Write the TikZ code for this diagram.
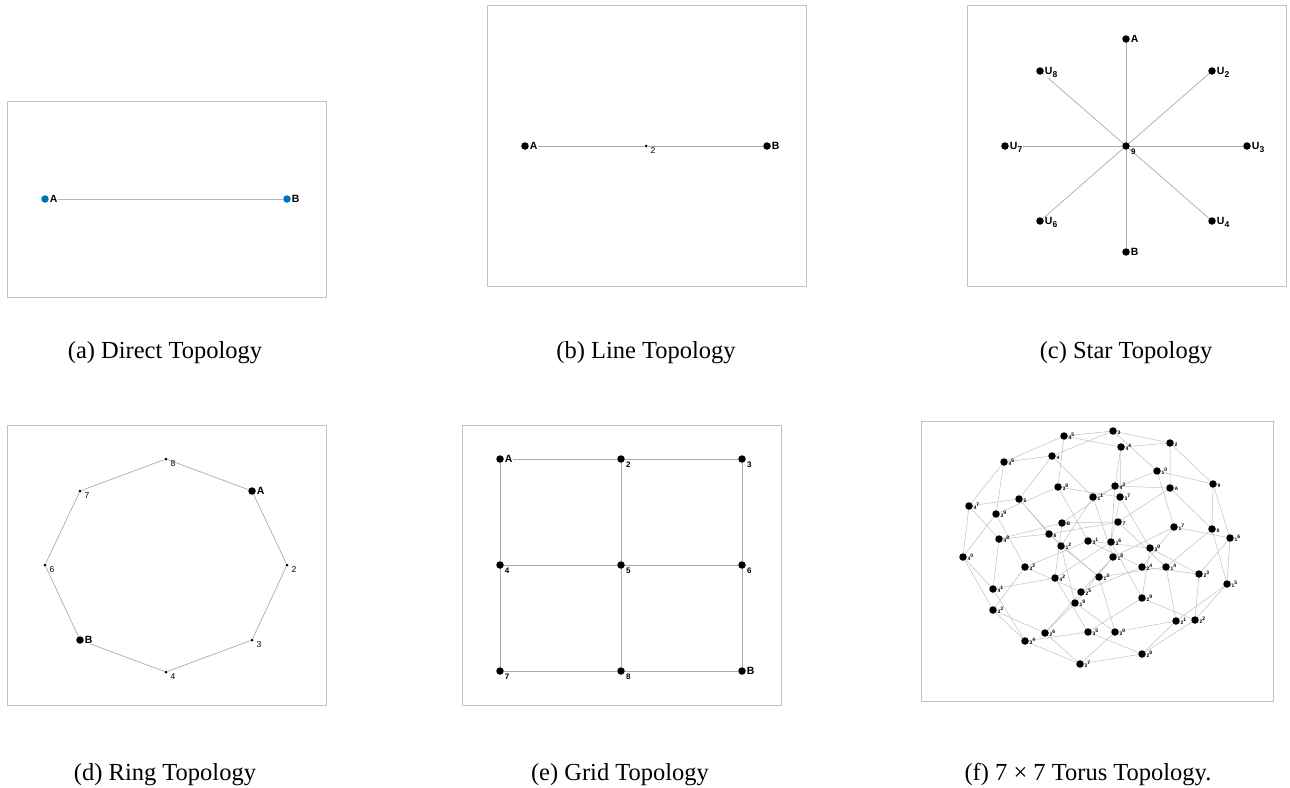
\documentclass[tikz,border=0pt]{standalone}
\usepackage{fontspec}
\setmainfont{Liberation Serif}
\setsansfont{Liberation Sans}
\usepackage{tikz}
\usetikzlibrary{backgrounds}
\definecolor{qqxsbd}{rgb}{0,0.447,0.741}
\definecolor{zdbfdz}{rgb}{0.616,0.749,0.851}
\definecolor{aaaaaa}{rgb}{0.667,0.667,0.667}
\definecolor{cqcqcq}{rgb}{0.753,0.753,0.753}
\newcommand{\tnum}[2]{\raisebox{-3.5pt}{#1}\raisebox{-0.5pt}{#2}}
\newcommand{\tone}[1]{\raisebox{-3.5pt}{#1}}
\newcommand{\usub}[1]{U\raisebox{-3pt}{\fontsize{8.5}{9}\selectfont#1}}
\newcommand{\tnode}[4]{\node[tdot,label={[tlab]0:#4}] (t#1) at (#2,#3) {};}
\begin{document}
\begin{tikzpicture}[line cap=round,line join=round,x=1pt,y=-1pt,
	dot/.style={circle,fill=black,inner sep=0pt,minimum size=7.5pt},
	bluedot/.style={dot,fill=qqxsbd},
	smalldot/.style={circle,fill=black,inner sep=0pt,minimum size=3pt},
	tdot/.style={circle,fill=black,inner sep=0pt,minimum size=7.5pt},
	link/.style={draw=aaaaaa,line width=0.7pt},
	tlink/.style={draw=cqcqcq,line width=0.5pt},
	frame/.style={draw=cqcqcq,line width=0.9pt},
	labA/.style={font=\sffamily\bfseries\fontsize{10.5}{11}\selectfont,fill=white,inner sep=0.5pt,anchor=base west,xshift=0.3pt,yshift=-3.7pt},
	labn/.style={font=\sffamily\fontsize{8.5}{9}\selectfont,inner sep=0pt,anchor=north west,xshift=3.2pt,yshift=-0.6pt},
	labg/.style={font=\sffamily\bfseries\fontsize{8}{8}\selectfont,inner sep=0pt,anchor=north west,xshift=2pt},
	tlab/.style={font=\sffamily\bfseries\fontsize{5}{5}\selectfont,inner sep=0.4pt,anchor=base west},
	captext/.style={font=\fontsize{24.5}{26}\selectfont,anchor=base,inner sep=0pt}]
	\clip(0,0) rectangle (1290,787);
	% (a) direct
	\draw[frame] (7,101) rectangle (326,297);
	\node[bluedot,label={[labA]0:A}] (aA) at (45,199) {};
	\node[bluedot,label={[labA]0:B}] (aB) at (287,199) {};
	\begin{scope}[on background layer]
		\draw[link,draw=zdbfdz] (aA) -- (aB);
	\end{scope}
	\node[captext] (capa) at (165,358) {(a) Direct Topology};
	% (b) line
	\draw[frame] (487,5) rectangle (806,286);
	\node[dot,label={[labA]0:A}] (bA) at (525,146) {};
	\node[smalldot,label={[labn]-45:2}] (b2) at (646,146) {};
	\node[dot,label={[labA]0:B}] (bB) at (767,146) {};
	\begin{scope}[on background layer]
		\draw[link] (bA) -- (b2);
		\draw[link] (b2) -- (bB);
	\end{scope}
	\node[captext] (capb) at (646,358) {(b) Line Topology};
	% (c) star
	\draw[frame] (967,5) rectangle (1286,286);
	\node[dot,label={[labg]-45:9}] (c9) at (1126,146) {};
	\node[dot,label={[labA]0:A}] (cA) at (1126,39) {};
	\node[dot,label={[labA]0:\usub{2}}] (cU2) at (1212,71) {};
	\node[dot,label={[labA]0:\usub{3}}] (cU3) at (1247,146) {};
	\node[dot,label={[labA]0:\usub{4}}] (cU4) at (1212,221) {};
	\node[dot,label={[labA]0:B}] (cB) at (1126,252) {};
	\node[dot,label={[labA]0:\usub{6}}] (cU6) at (1040,221) {};
	\node[dot,label={[labA]0:\usub{7}}] (cU7) at (1005,146) {};
	\node[dot,label={[labA]0:\usub{8}}] (cU8) at (1040,71) {};
	\begin{scope}[on background layer]
		\draw[link] (c9) -- (cA);
		\draw[link] (c9) -- (cU2);
		\draw[link] (c9) -- (cU3);
		\draw[link] (c9) -- (cU4);
		\draw[link] (c9) -- (cB);
		\draw[link] (c9) -- (cU6);
		\draw[link] (c9) -- (cU7);
		\draw[link] (c9) -- (cU8);
	\end{scope}
	\node[captext] (capc) at (1126,358) {(c) Star Topology};
	% (d) ring
	\draw[frame] (7,425) rectangle (326,705);
	\node[dot,label={[labA]0:A}] (dA) at (252,491) {};
	\node[smalldot,label={[labn]-45:2}] (d2) at (287,565) {};
	\node[smalldot,label={[labn]-45:3}] (d3) at (252,640) {};
	\node[smalldot,label={[labn]-45:4}] (d4) at (166,672) {};
	\node[dot,label={[labA]0:B}] (dB) at (80,640) {};
	\node[smalldot,label={[labn]-45:6}] (d6) at (45,565) {};
	\node[smalldot,label={[labn]-45:7}] (d7) at (80,491) {};
	\node[smalldot,label={[labn]-45:8}] (d8) at (166,459) {};
	\begin{scope}[on background layer]
		\draw[link] (dA) -- (d2);
		\draw[link] (d2) -- (d3);
		\draw[link] (d3) -- (d4);
		\draw[link] (d4) -- (dB);
		\draw[link] (dB) -- (d6);
		\draw[link] (d6) -- (d7);
		\draw[link] (d7) -- (d8);
		\draw[link] (d8) -- (dA);
	\end{scope}
	\node[captext] (capd) at (165,780) {(d) Ring Topology};
	% (e) grid
	\draw[frame] (462,425) rectangle (781,705);
	\node[dot,label={[labA]0:A}] (eA) at (500,459) {};
	\node[dot,label={[labg]-45:2}] (e2) at (621,459) {};
	\node[dot,label={[labg]-45:3}] (e3) at (742,459) {};
	\node[dot,label={[labg]-45:4}] (e4) at (500,565) {};
	\node[dot,label={[labg]-45:5}] (e5) at (621,565) {};
	\node[dot,label={[labg]-45:6}] (e6) at (742,565) {};
	\node[dot,label={[labg]-45:7}] (e7) at (500,671) {};
	\node[dot,label={[labg]-45:8}] (e8) at (621,671) {};
	\node[dot,label={[labA]0:B}] (eB) at (742,671) {};
	\begin{scope}[on background layer]
		\draw[link] (eA) -- (e2);
		\draw[link] (e2) -- (e3);
		\draw[link] (e4) -- (e5);
		\draw[link] (e5) -- (e6);
		\draw[link] (e7) -- (e8);
		\draw[link] (e8) -- (eB);
		\draw[link] (eA) -- (e4);
		\draw[link] (e4) -- (e7);
		\draw[link] (e2) -- (e5);
		\draw[link] (e5) -- (e8);
		\draw[link] (e3) -- (e6);
		\draw[link] (e6) -- (eB);
	\end{scope}
	\node[captext] (cape) at (620,780) {(e) Grid Topology};
	% (f) torus
	\draw[frame] (921,421) rectangle (1273,701);
	\tnode{1}{1170}{488}{\raisebox{-2.2pt}{A}}
	\tnode{2}{1170}{443}{\tone{2}}
	\tnode{3}{1113}{431}{\tone{3}}
	\tnode{4}{1052}{456}{\tone{4}}
	\tnode{5}{1019}{499}{\tone{5}}
	\tnode{6}{1049}{534}{\tone{6}}
	\tnode{7}{1118}{522}{\tone{7}}
	\tnode{8}{1212}{529}{\tone{8}}
	\tnode{9}{1213}{484}{\tone{9}}
	\tnode{10}{1157}{471}{\tnum{1}{0}}
	\tnode{11}{1093}{497}{\tnum{1}{1}}
	\tnode{12}{1061}{546}{\tnum{1}{2}}
	\tnode{13}{1099}{577}{\tnum{1}{3}}
	\tnode{14}{1166}{567}{\tnum{1}{4}}
	\tnode{15}{1227}{584}{\tnum{1}{5}}
	\tnode{16}{1230}{538}{\tnum{1}{6}}
	\tnode{17}{1174}{527}{\tnum{1}{7}}
	\tnode{18}{1113}{557}{\tnum{1}{8}}
	\tnode{19}{1075}{603}{\tnum{1}{9}}
	\tnode{20}{1115}{632}{\tnum{2}{0}}
	\tnode{21}{1176}{621}{\tnum{2}{1}}
	\tnode{22}{1195}{620}{\tnum{2}{2}}
	\tnode{23}{1199}{574}{\tnum{2}{3}}
	\tnode{24}{1142}{567}{\tnum{2}{4}}
	\tnode{25}{1081}{592}{\tnum{2}{5}}
	\tnode{26}{1045}{633}{\tnum{2}{6}}
	\tnode{27}{1080}{664}{\tnum{2}{7}}
	\tnode{28}{1142}{654}{\tnum{2}{8}}
	\tnode{29}{1142}{598}{\tnum{2}{9}}
	\tnode{30}{1150}{548}{\tnum{3}{0}}
	\tnode{31}{1088}{541}{\tnum{3}{1}}
	\tnode{32}{1025}{567}{\tnum{3}{2}}
	\tnode{33}{993}{610}{\tnum{3}{3}}
	\tnode{34}{1025}{641}{\tnum{3}{4}}
	\tnode{35}{1088}{632}{\tnum{3}{5}}
	\tnode{36}{1111}{542}{\tnum{3}{6}}
	\tnode{37}{1120}{497}{\tnum{3}{7}}
	\tnode{38}{1058}{487}{\tnum{3}{8}}
	\tnode{39}{996}{514}{\tnum{3}{9}}
	\tnode{40}{963}{557}{\tnum{4}{0}}
	\tnode{41}{993}{589}{\tnum{4}{1}}
	\tnode{42}{1055}{578}{\tnum{4}{2}}
	\tnode{43}{1115}{486}{\tnum{4}{3}}
	\tnode{44}{1121}{447}{\tnum{4}{4}}
	\tnode{45}{1064}{436}{\tnum{4}{5}}
	\tnode{46}{1004}{462}{\tnum{4}{6}}
	\tnode{47}{969}{506}{\tnum{4}{7}}
	\tnode{48}{999}{539}{\tnum{4}{8}}
	\tnode{49}{1062}{523}{\raisebox{-2.2pt}{B}}
	\begin{scope}[on background layer]
	\foreach \r in {0,...,6}{
		\foreach \c in {0,...,6}{
			\pgfmathtruncatemacro{\tfrom}{7*\r+\c+1}
			\pgfmathtruncatemacro{\tright}{7*\r+mod(\c+1,7)+1}
			\pgfmathtruncatemacro{\tdown}{7*mod(\r+1,7)+\c+1}
			\draw[tlink] (t\tfrom) -- (t\tright) (t\tfrom) -- (t\tdown);
		}
	}
	\end{scope}
	\node[captext] (capf) at (1088,780) {(f) 7 × 7 Torus Topology.};
\end{tikzpicture}
\end{document}
